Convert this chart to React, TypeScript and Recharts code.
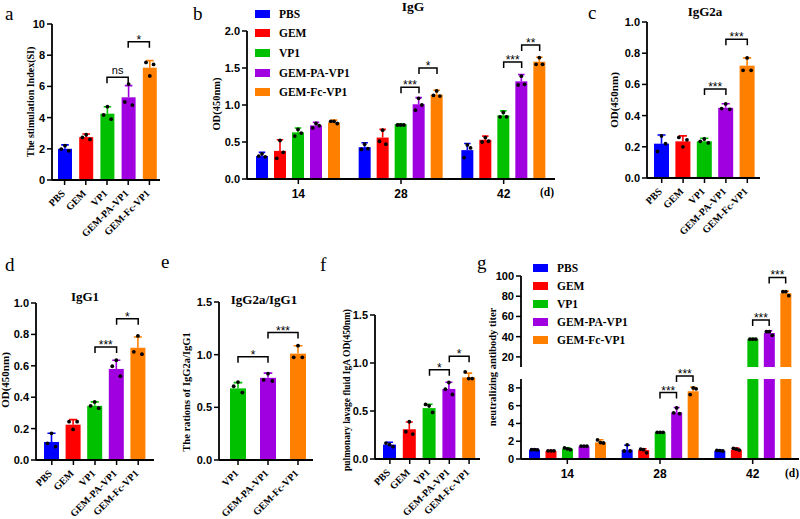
import React from 'react';
import { BarChart, Bar, XAxis, YAxis, ReferenceLine, Legend } from 'recharts';

const GROUPS = ['PBS', 'GEM', 'VP1', 'GEM-PA-VP1', 'GEM-Fc-VP1'];
const RATIO_GROUPS = ['VP1', 'GEM-PA-VP1', 'GEM-Fc-VP1'];
const DAYS = ['14', '28', '42'];

const COLORS: Record<string, string> = {
  PBS: '#0000ff',
  GEM: '#ff0000',
  VP1: '#00c000',
  'GEM-PA-VP1': '#a000e0',
  'GEM-Fc-VP1': '#ff8000',
};

// a - stimulation index
const SI_MEAN = [2.0, 2.75, 4.25, 5.3, 7.2];
const SI_SD = [0.25, 0.2, 0.45, 0.75, 0.45];
const SI_DOTS = [[1.98, 2.2, 1.87], [2.73, 2.9, 2.6], [4.17, 4.7, 3.9], [5.0, 6.15, 4.8], [7.54, 6.67, 7.41]];

// b - IgG, rows = groups, cols = days
const IGG_MEAN = [[0.31, 0.43, 0.39], [0.38, 0.56, 0.53], [0.63, 0.74, 0.86], [0.725, 1.01, 1.32], [0.765, 1.14, 1.585]];
const IGG_SD = [[0.05, 0.06, 0.09], [0.15, 0.11, 0.05], [0.06, 0.005, 0.06], [0.04, 0.09, 0.09], [0.03, 0.06, 0.06]];
const IGG_DOTS = [
  [[0.31, 0.34, 0.3], [0.4, 0.47, 0.41], [0.29, 0.46, 0.42]],
  [[0.28, 0.52, 0.36], [0.51, 0.66, 0.47], [0.5, 0.56, 0.51]],
  [[0.58, 0.67, 0.62], [0.73, 0.73, 0.73], [0.84, 0.9, 0.84]],
  [[0.69, 0.75, 0.72], [0.93, 1.09, 1.0], [1.27, 1.39, 1.28]],
  [[0.78, 0.78, 0.75], [1.13, 1.19, 1.12], [1.55, 1.64, 1.55]],
];

// c - IgG2a
const IGG2A_MEAN = [0.22, 0.235, 0.235, 0.45, 0.72];
const IGG2A_SD = [0.056, 0.035, 0.02, 0.026, 0.05];
const IGG2A_DOTS = [[0.17, 0.27, 0.22], [0.26, 0.2, 0.245], [0.235, 0.25, 0.225], [0.445, 0.475, 0.44], [0.69, 0.77, 0.69]];

// d - IgG1
const IGG1_MEAN = [0.115, 0.225, 0.345, 0.58, 0.715];
const IGG1_SD = [0.055, 0.032, 0.025, 0.055, 0.068];
const IGG1_DOTS = [[0.106, 0.17, 0.085], [0.244, 0.195, 0.244], [0.345, 0.37, 0.33], [0.597, 0.636, 0.534], [0.689, 0.79, 0.674]];

// e - IgG2a/IgG1
const RATIO_MEAN = [0.68, 0.78, 1.01];
const RATIO_SD = [0.055, 0.045, 0.075];
const RATIO_DOTS = [[0.7, 0.74, 0.64], [0.76, 0.82, 0.75], [0.975, 1.085, 0.975]];

// f - lavage IgA
const IGA_MEAN = [0.15, 0.31, 0.53, 0.73, 0.85];
const IGA_SD = [0.025, 0.075, 0.04, 0.07, 0.045];
const IGA_DOTS = [[0.166, 0.15, 0.128], [0.284, 0.388, 0.26], [0.568, 0.554, 0.485], [0.727, 0.797, 0.672], [0.907, 0.838, 0.838]];

// g - neutralizing antibody titer
const NT_MEAN = [[1.04, 1.04, 0.93], [0.9, 1.0, 1.04], [1.15, 2.97, 37.5], [1.41, 5.24, 43.6], [1.86, 7.62, 83.0]];
const NT_SD = [[0.06, 0.5, 0.05], [0.05, 0.15, 0.18], [0.12, 0.03, 0.7], [0.06, 0.55, 2.3], [0.3, 0.45, 2.0]];
const NT_DOTS = [
  [[1.05, 1.05, 1.02], [0.9, 1.6, 0.9], [0.97, 0.95, 0.9]],
  [[0.92, 0.92, 0.92], [1.1, 1.05, 0.7], [1.2, 1.1, 1.0]],
  [[1.25, 1.15, 1.05], [3.0, 3.0, 3.0], [37.5, 37.5, 37.5]],
  [[1.45, 1.45, 1.45], [5.2, 5.75, 5.1], [44.9, 44.9, 41.3]],
  [[2.15, 1.85, 1.8], [7.25, 8.0, 7.9], [84.5, 84.5, 80.5]],
];
const NT_BREAK = 10;

const SERIF = '"Liberation Serif", "Times New Roman", serif';
const SANS = '"Liberation Sans", Arial, sans-serif';

const singleRows = (names: string[], mean: number[], sd: number[], dots: number[][]) =>
  names.map((name, i) => ({ name, val: mean[i], val_sd: sd[i], val_dots: dots[i] }));

const groupedRows = (mean: number[][], sd: number[][], dots: number[][][], minVal = -Infinity) =>
  DAYS.map((day, d) => {
    const row: Record<string, any> = { day };
    GROUPS.forEach((g, gi) => {
      row[g] = mean[gi][d] >= minVal ? mean[gi][d] : null;
      row[`${g}_sd`] = sd[gi][d];
      row[`${g}_dots`] = dots[gi][d];
    });
    return row;
  });

const siData = singleRows(GROUPS, SI_MEAN, SI_SD, SI_DOTS);
const iggData = groupedRows(IGG_MEAN, IGG_SD, IGG_DOTS);
const igg2aData = singleRows(GROUPS, IGG2A_MEAN, IGG2A_SD, IGG2A_DOTS);
const igg1Data = singleRows(GROUPS, IGG1_MEAN, IGG1_SD, IGG1_DOTS);
const ratioData = singleRows(RATIO_GROUPS, RATIO_MEAN, RATIO_SD, RATIO_DOTS);
const igaData = singleRows(GROUPS, IGA_MEAN, IGA_SD, IGA_DOTS);
const ntLow = groupedRows(NT_MEAN, NT_SD, NT_DOTS);
const ntHigh = groupedRows(NT_MEAN, NT_SD, NT_DOTS, NT_BREAK);

type Sig = { from: string; to: string; y: number; label: string; i?: number; j?: number };

const SI_SIGS: Sig[] = [
  { from: 'VP1', to: 'GEM-PA-VP1', y: 6.58, label: 'ns' },
  { from: 'GEM-PA-VP1', to: 'GEM-Fc-VP1', y: 8.87, label: '*' },
];
const IGG_SIGS: Sig[] = [
  { from: '28', to: '28', i: 2, j: 3, y: 1.24, label: '***' },
  { from: '28', to: '28', i: 3, j: 4, y: 1.5, label: '*' },
  { from: '42', to: '42', i: 2, j: 3, y: 1.58, label: '***' },
  { from: '42', to: '42', i: 3, j: 4, y: 1.81, label: '**' },
];
const IGG2A_SIGS: Sig[] = [
  { from: 'VP1', to: 'GEM-PA-VP1', y: 0.57, label: '***' },
  { from: 'GEM-PA-VP1', to: 'GEM-Fc-VP1', y: 0.89, label: '***' },
];
const IGG1_SIGS: Sig[] = [
  { from: 'VP1', to: 'GEM-PA-VP1', y: 0.72, label: '***' },
  { from: 'GEM-PA-VP1', to: 'GEM-Fc-VP1', y: 0.9, label: '*' },
];
const RATIO_SIGS: Sig[] = [
  { from: 'VP1', to: 'GEM-PA-VP1', y: 0.98, label: '*' },
  { from: 'GEM-PA-VP1', to: 'GEM-Fc-VP1', y: 1.21, label: '***' },
];
const IGA_SIGS: Sig[] = [
  { from: 'VP1', to: 'GEM-PA-VP1', y: 0.93, label: '*' },
  { from: 'GEM-PA-VP1', to: 'GEM-Fc-VP1', y: 1.07, label: '*' },
];
const NT_LOW_SIGS: Sig[] = [
  { from: '28', to: '28', i: 2, j: 3, y: 7.47, label: '***' },
  { from: '28', to: '28', i: 3, j: 4, y: 9.35, label: '***' },
];
const NT_HIGH_SIGS: Sig[] = [
  { from: '42', to: '42', i: 2, j: 3, y: 56.4, label: '***' },
  { from: '42', to: '42', i: 3, j: 4, y: 98.6, label: '***' },
];

// bar + SD whisker + replicate dots, all mapped from the bar's own geometry
const makeShape = (k: string, base: number, cap: number) => (p: any) => {
  const { x, y, width, height, payload } = p;
  const v = payload[k];
  if (v == null || !(height > 0)) return <g />;
  const color = COLORS[k] ?? COLORS[payload.name];
  const bottom = y + height;
  const py = (u: number) => bottom - ((u - base) / (v - base)) * height;
  const over = v > cap;
  const top = over ? py(cap) : y;
  const cx = x + width / 2;
  const sd = payload[`${k}_sd`];
  const dots: number[] = payload[`${k}_dots`];
  const hw = width * 0.27;
  return (
    <g>
      <rect x={x} y={top} width={width} height={bottom - top} fill={color} />
      {!over && (
        <>
          <path
            d={`M${cx},${y}V${py(v + sd)}M${cx - hw},${py(v + sd)}H${cx + hw}`}
            stroke={color}
            strokeWidth={1.6}
            fill="none"
          />
          {dots.map((d, i) => (
            <circle key={i} cx={cx + (i - 1) * hw} cy={py(d)} r={1.9} fill="#000" />
          ))}
        </>
      )}
    </g>
  );
};

const bracket = (s: Sig, step: number) => (p: any) => {
  const a = p.x1 + ((s.i ?? 2) - 2) * step;
  const b = p.x2 + ((s.j ?? 2) - 2) * step;
  const y = p.y1;
  const star = s.label.includes('*');
  return (
    <g>
      <path d={`M${a},${y + 6}V${y}H${b}V${y + 6}`} fill="none" stroke="#000" strokeWidth={1.5} />
      <text
        x={(a + b) / 2}
        y={star ? y + 2 : y - 3}
        textAnchor="middle"
        fontFamily={SANS}
        fontSize={star ? 12 : 11}
        fill="#000"
      >
        {s.label}
      </text>
    </g>
  );
};

const SlantTick = (p: any) => (
  <text
    transform={`translate(${p.x + 1},${p.y + 7}) rotate(-45)`}
    textAnchor="end"
    fontFamily={SERIF}
    fontWeight={700}
    fontSize={10}
    fill="#000"
  >
    {p.payload.value}
  </text>
);

const DayTick = (p: any) => (
  <text x={p.x} y={p.y} dy="0.75em" textAnchor="middle" fontFamily={SANS} fontWeight={700} fontSize={12} fill="#000">
    {p.payload.value}
  </text>
);

const LegendBox = ({ payload, rowH }: any) => {
  const items = [...(payload ?? [])].sort((a: any, b: any) => GROUPS.indexOf(a.value) - GROUPS.indexOf(b.value));
  return (
    <div>
      {items.map((e: any) => (
        <div key={e.value} style={{ display: 'flex', alignItems: 'center', height: rowH }}>
          <span style={{ width: 15, height: 8, background: e.color, marginRight: 9, display: 'inline-block' }} />
          <span style={{ fontFamily: SERIF, fontWeight: 700, fontSize: 11.5, color: '#000' }}>{e.value}</span>
        </div>
      ))}
    </div>
  );
};

const AXIS_LINE = { stroke: '#000', strokeWidth: 1.8 };
const TICK_LINE = { stroke: '#000', strokeWidth: 1.5 };

type PanelProps = {
  plot: [number, number, number, number];
  data: any[];
  xKey: string;
  keys: string[];
  domain: [number, number];
  ticks: number[];
  digits: number;
  barSize: number;
  barGap?: number;
  pad?: [number, number];
  slant?: boolean;
  hideX?: boolean;
  mt?: number;
  mb?: number;
  sigs?: Sig[];
  legend?: { left: number; top: number; rowH: number };
};

const Panel = ({
  plot: [x0, y0, x1, y1],
  data,
  xKey,
  keys,
  domain,
  ticks,
  digits,
  barSize,
  barGap = 4,
  pad = [0, 0],
  slant = false,
  hideX = false,
  mt = 12,
  mb = 58,
  sigs = [],
  legend,
}: PanelProps) => {
  const ML = 40;
  const MR = 6;
  const W = ML + (x1 - x0) + MR;
  const H = mt + (y1 - y0) + (hideX ? 0 : mb);
  const step = barSize + barGap;
  return (
    <div style={{ position: 'absolute', left: x0 - ML, top: y0 - mt }}>
      <BarChart
        width={W}
        height={H}
        data={data}
        margin={{ top: mt, right: MR, bottom: 0, left: 0 }}
        barSize={barSize}
        barGap={barGap}
      >
        <XAxis
          dataKey={xKey}
          hide={hideX}
          height={mb}
          interval={0}
          padding={{ left: pad[0], right: pad[1] }}
          axisLine={AXIS_LINE}
          tickLine={TICK_LINE}
          tickSize={5}
          tickMargin={slant ? 2 : 5}
          tick={slant ? <SlantTick /> : <DayTick />}
        />
        <YAxis
          type="number"
          width={ML}
          domain={domain}
          ticks={ticks}
          interval={0}
          allowDataOverflow
          tickFormatter={(v: number) => v.toFixed(digits)}
          axisLine={AXIS_LINE}
          tickLine={TICK_LINE}
          tickSize={5}
          tick={{ fill: '#000', fontSize: 11, fontWeight: 700, fontFamily: SANS }}
        />
        {keys.map((k) => (
          <Bar
            key={k}
            dataKey={k}
            name={k}
            fill={COLORS[k] ?? '#000'}
            isAnimationActive={false}
            shape={makeShape(k, domain[0], domain[1])}
          />
        ))}
        {sigs.map((s, i) => (
          <ReferenceLine
            key={i}
            segment={[{ x: s.from, y: s.y }, { x: s.to, y: s.y }]}
            ifOverflow="visible"
            stroke="#000"
            shape={bracket(s, step)}
          />
        ))}
        {legend && (
          <Legend
            layout="vertical"
            align="center"
            verticalAlign="middle"
            wrapperStyle={{ left: legend.left, top: legend.top, width: 'auto' }}
            content={(props: any) => <LegendBox payload={props.payload} rowH={legend.rowH} />}
          />
        )}
      </BarChart>
    </div>
  );
};

const YLabel = ({ x, y, text, size = 10.5 }: { x: number; y: number; text: string; size?: number }) => (
  <text
    transform={`translate(${x},${y}) rotate(-90)`}
    textAnchor="middle"
    dy="0.35em"
    fontFamily={SERIF}
    fontWeight={700}
    fontSize={size}
    fill="#000"
  >
    {text}
  </text>
);

const Letter = ({ x, y, t }: { x: number; y: number; t: string }) => (
  <text x={x} y={y} fontFamily={SERIF} fontSize={19} fill="#000">
    {t}
  </text>
);

const Title = ({ x, y, t, size = 13 }: { x: number; y: number; t: string; size?: number }) => (
  <text x={x} y={y} textAnchor="middle" fontFamily={SERIF} fontWeight={700} fontSize={size} fill="#000">
    {t}
  </text>
);

export default function App() {
  return (
    <div style={{ position: 'absolute', left: 0, top: 0, width: 800, height: 519, background: '#fff', overflow: 'hidden' }}>
      <Panel plot={[52, 24, 160, 180]} data={siData} xKey="name" keys={['val']} domain={[0, 10]}
        ticks={[0, 2, 4, 6, 8, 10]} digits={0} barSize={14} pad={[2, 0]} slant sigs={SI_SIGS} />
      <Panel plot={[247, 31, 555, 179]} data={iggData} xKey="day" keys={GROUPS} domain={[0, 2]}
        ticks={[0, 0.5, 1, 1.5, 2]} digits={1} barSize={12} barGap={6} mt={31} mb={30} sigs={IGG_SIGS}
        legend={{ left: 48, top: 4, rowH: 19.6 }} />
      <Panel plot={[647, 22, 760, 178]} data={igg2aData} xKey="name" keys={['val']} domain={[0, 1]}
        ticks={[0, 0.2, 0.4, 0.6, 0.8, 1]} digits={1} barSize={15} pad={[4, 2]} slant sigs={IGG2A_SIGS} />
      <Panel plot={[36, 303, 154, 460]} data={igg1Data} xKey="name" keys={['val']} domain={[0, 1]}
        ticks={[0, 0.2, 0.4, 0.6, 0.8, 1]} digits={1} barSize={15} pad={[5, 5]} slant sigs={IGG1_SIGS} />
      <Panel plot={[219, 302, 313, 460]} data={ratioData} xKey="name" keys={['val']} domain={[0, 1.5]}
        ticks={[0, 0.5, 1, 1.5]} digits={1} barSize={16} pad={[4, 0]} slant sigs={RATIO_SIGS} />
      <Panel plot={[375, 315, 480, 459]} data={igaData} xKey="name" keys={['val']} domain={[0, 1.5]}
        ticks={[0, 0.5, 1, 1.5]} digits={1} barSize={13} pad={[5, 1]} slant sigs={IGA_SIGS} />
      <Panel plot={[521, 276, 799, 367]} data={ntHigh} xKey="day" keys={GROUPS} domain={[NT_BREAK, 100]}
        ticks={[20, 40, 60, 80, 100]} digits={0} barSize={11} barGap={5.5} hideX mt={21} sigs={NT_HIGH_SIGS}
        legend={{ left: 52, top: 4, rowH: 18 }} />
      <Panel plot={[521, 379, 799, 459]} data={ntLow} xKey="day" keys={GROUPS} domain={[0, 9]}
        ticks={[0, 2, 4, 6, 8]} digits={0} barSize={11} barGap={5.5} mb={30} sigs={NT_LOW_SIGS} />

      <svg width={800} height={519} style={{ position: 'absolute', left: 0, top: 0, pointerEvents: 'none' }}>
        <Letter x={5} y={20} t="a" />
        <Letter x={193} y={20} t="b" />
        <Letter x={588} y={19} t="c" />
        <Letter x={5} y={271} t="d" />
        <Letter x={161} y={268} t="e" />
        <Letter x={320} y={271} t="f" />
        <Letter x={477} y={269} t="g" />

        <Title x={413} y={11} t="IgG" size={13.5} />
        <Title x={705} y={16} t="IgG2a" />
        <Title x={85} y={301} t="IgG1" />
        <Title x={264} y={304} t="IgG2a/IgG1" />
        <Title x={547} y={196} t="(d)" size={11.5} />
        <Title x={792} y={477} t="(d)" size={11.5} />

        <YLabel x={30} y={102} text="The stimulation Index(SI)" size={10} />
        <YLabel x={216} y={104} text="OD(450nm)" />
        <YLabel x={614} y={100} text="OD(450nm)" size={11} />
        <YLabel x={5} y={380} text="OD(450nm)" size={11} />
        <YLabel x={186} y={392} text="The rations of IgG2a/IgG1" size={10.5} />
        <YLabel x={347} y={390} text="pulmonary lavage fluid IgA OD(450nm)" size={9.5} />
        <YLabel x={492} y={367} text="neutralizing antibody titer" size={10.5} />
      </svg>
    </div>
  );
}
